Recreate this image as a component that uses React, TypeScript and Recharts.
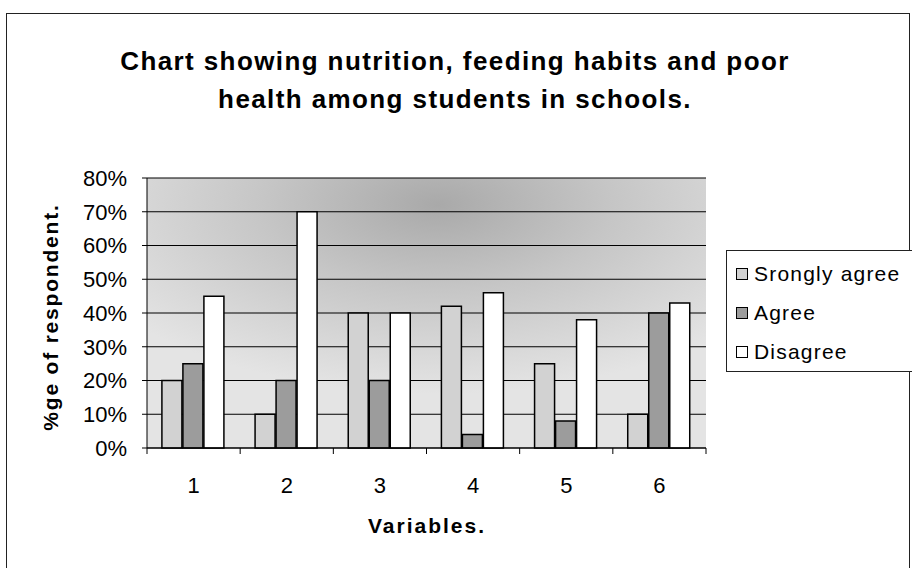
import React from "react";
import { BarChart, Bar, XAxis, YAxis, CartesianGrid } from "recharts";

const variables = ["1", "2", "3", "4", "5", "6"];
const stronglyAgree = [20, 10, 40, 42, 25, 10];
const agree = [25, 20, 20, 4, 8, 40];
const disagree = [45, 70, 40, 46, 38, 43];
const yTicks = [0, 10, 20, 30, 40, 50, 60, 70, 80];

const seriesInfo = [
  { key: "stronglyAgree", name: "Srongly agree", fill: "#d2d2d2" },
  { key: "agree", name: "Agree", fill: "#9c9c9c" },
  { key: "disagree", name: "Disagree", fill: "#ffffff" },
];

const data = variables.map((v, i) => ({
  variable: v,
  stronglyAgree: stronglyAgree[i],
  agree: agree[i],
  disagree: disagree[i],
}));

const FONT = "'Liberation Sans', Arial, sans-serif";
const HALF_BAND = 559 / variables.length / 2;

const XTick = (props: any) => {
  const { x, y, payload, index } = props;
  return (
    <g>
      <line x1={x - HALF_BAND} y1={y - 8} x2={x - HALF_BAND} y2={y - 2} stroke="#000" />
      {index === variables.length - 1 && (
        <line x1={x + HALF_BAND} y1={y - 8} x2={x + HALF_BAND} y2={y - 2} stroke="#000" />
      )}
      <text x={x} y={y + 37} textAnchor="middle" fontSize={22} fontFamily={FONT} fill="#000">
        {payload.value}
      </text>
    </g>
  );
};

const LegendBox = () => (
  <div
    style={{
      position: "absolute",
      left: 726,
      top: 250,
      border: "1px solid #222",
      borderRight: "none",
      width: 190,
      height: 122,
      boxSizing: "border-box",
      padding: "3px 0 0 9px",
      fontFamily: FONT,
      fontSize: 21,
      letterSpacing: 1.2,
      color: "#000",
      background: "#fff",
    }}
  >
    {seriesInfo.map((s) => (
      <div key={s.key} style={{ display: "flex", alignItems: "center", height: 39, whiteSpace: "nowrap" }}>
        <span
          style={{
            display: "inline-block",
            width: 10,
            height: 10,
            border: "1px solid #000",
            background: s.fill,
            marginRight: 6,
            flexShrink: 0,
          }}
        />
        {s.name}
      </div>
    ))}
  </div>
);

export default function App() {
  return (
    <div style={{ position: "absolute", left: 0, top: 0, width: 912, height: 568, background: "#fff", overflow: "hidden" }}>
      <div
        style={{
          position: "absolute",
          left: 6,
          top: 13,
          width: 904,
          height: 570,
          border: "1.5px solid #222",
          boxSizing: "border-box",
        }}
      />
      <div
        style={{
          position: "absolute",
          left: 0,
          top: 42,
          width: 910,
          textAlign: "center",
          fontFamily: FONT,
          fontWeight: "bold",
          fontSize: 26,
          letterSpacing: 1.4,
          lineHeight: "38px",
          color: "#000",
        }}
      >
        Chart showing nutrition, feeding habits and poor
        <br />
        health among students in schools.
      </div>
      <div
        style={{
          position: "absolute",
          left: 51,
          top: 317,
          transform: "translate(-50%, -50%) rotate(-90deg)",
          whiteSpace: "nowrap",
          fontFamily: FONT,
          fontWeight: "bold",
          fontSize: 21,
          letterSpacing: 1.8,
          color: "#000",
        }}
      >
        %ge of respondent.
      </div>
      <div
        style={{
          position: "absolute",
          left: 0,
          top: 514,
          width: 854,
          textAlign: "center",
          fontFamily: FONT,
          fontWeight: "bold",
          fontSize: 21,
          letterSpacing: 2,
          color: "#000",
        }}
      >
        Variables.
      </div>
      <div style={{ position: "absolute", left: 0, top: 0 }}>
        <BarChart
          width={912}
          height={568}
          data={data}
          margin={{ top: 178, right: 206, bottom: 90, left: 87 }}
          barCategoryGap="16%"
          barGap={1}
        >
          <defs>
            <radialGradient id="plotBg" cx="52%" cy="10%" r="70%">
              <stop offset="0%" stopColor="#a9a9a9" />
              <stop offset="45%" stopColor="#c6c6c6" />
              <stop offset="100%" stopColor="#e4e4e4" />
            </radialGradient>
          </defs>
          <CartesianGrid vertical={false} stroke="#000" strokeWidth={1.2} fill="url(#plotBg)" fillOpacity={1} />
          <XAxis
            dataKey="variable"
            stroke="#000"
            tickLine={false}
            tick={<XTick />}
            interval={0}
            height={30}
          />
          <YAxis
            width={60}
            domain={[0, 80]}
            ticks={yTicks}
            tickFormatter={(v: number) => `${v}%`}
            stroke="#000"
            tickSize={5}
            tickMargin={15}
            tick={{ fontSize: 22, fontFamily: FONT, fill: "#000" }}
            interval={0}
          />
          {seriesInfo.map((s) => (
            <Bar
              key={s.key}
              dataKey={s.key}
              name={s.name}
              fill={s.fill}
              stroke="#000"
              strokeWidth={1.5}
              isAnimationActive={false}
            />
          ))}
        </BarChart>
      </div>
      <LegendBox />
    </div>
  );
}
